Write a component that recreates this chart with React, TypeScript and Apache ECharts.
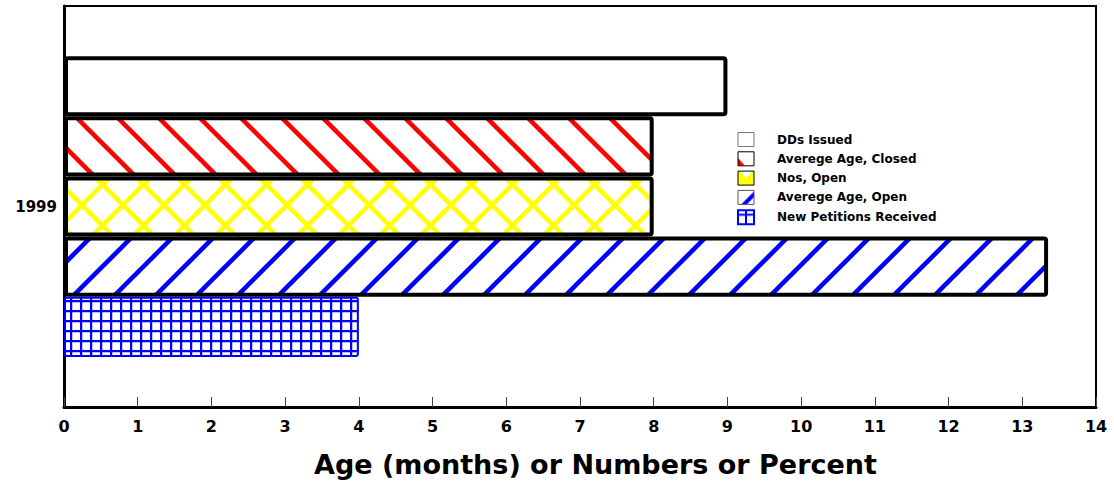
import React, { useEffect, useRef } from "react";
import * as echarts from "echarts";

const categories = ["1999"];
const seriesNames = [
  "DDs Issued",
  "Averege Age, Closed",
  "Nos, Open",
  "Averege Age, Open",
  "New Petitions Received",
];
const ddsIssued = [9];
const avgAgeClosed = [8];
const nosOpen = [8];
const avgAgeOpen = [13.35];
const newPetitions = [4];
const xMin = 0;
const xMax = 14;
const xInterval = 1;
const xTitle = "Age (months) or Numbers or Percent";

function svgPattern(body: string, w: number, h: number) {
  const svg = `<svg xmlns="http://www.w3.org/2000/svg" width="${w}" height="${h}">${body}</svg>`;
  return {
    image: "data:image/svg+xml;charset=utf-8," + encodeURIComponent(svg),
    repeat: "repeat",
    imageWidth: w,
    imageHeight: h,
  };
}

const T = 41;
const back = (c: string) =>
  `<rect width="${T}" height="${T}" fill="#fff"/><path d="M-6,-6 L${T + 6},${T + 6} M-6,${T - 6} L6,${T + 6} M${T - 6},-6 L${T + 6},6" stroke="${c}" stroke-width="4.5" fill="none"/>`;
const fwd = (c: string) =>
  `<rect width="${T}" height="${T}" fill="#fff"/><path d="M-6,${T + 6} L${T + 6},-6 M-6,6 L6,-6 M${T - 6},${T + 6} L${T + 6},${T - 6}" stroke="${c}" stroke-width="4.5" fill="none"/>`;
const cross = (c: string) =>
  `<rect width="${T}" height="${T}" fill="#fff"/><path d="M-6,-6 L${T + 6},${T + 6} M-6,${T - 6} L6,${T + 6} M${T - 6},-6 L${T + 6},6 M-6,${T + 6} L${T + 6},-6 M-6,6 L6,-6 M${T - 6},${T + 6} L${T + 6},${T - 6}" stroke="${c}" stroke-width="4.5" fill="none"/>`;
const G = 10;
const grid = (c: string) =>
  `<rect width="${G}" height="${G}" fill="#fff"/><path d="M1,0 L1,${G} M0,1 L${G},1" stroke="${c}" stroke-width="2.5" fill="none"/>`;

// legend icon tiles (16x14)
const IW = 16;
const IH = 14;
const iconTiles = [
  `<rect width="${IW}" height="${IH}" fill="#fff"/>`,
  `<rect width="${IW}" height="${IH}" fill="#fff"/><polygon points="0,6 7,${IH} 0,${IH}" fill="#ff0000"/>`,
  `<rect width="${IW}" height="${IH}" fill="#ffff00"/><polygon points="2,0 8,7 ${IW - 1},0" fill="#fff"/>`,
  `<rect width="${IW}" height="${IH}" fill="#fff"/><path d="M5,${IH + 1} L${IW + 1},3" stroke="#0000ff" stroke-width="4" fill="none"/>`,
  `<rect width="${IW}" height="${IH}" fill="#fff"/><path d="M${IW / 2},0 L${IW / 2},${IH} M0,4.5 L${IW},4.5" stroke="#0000ff" stroke-width="2" fill="none"/>`,
];
const iconBorders = ["#777", "#000", "#000", "#555", "#0000ff"];
const iconBorderWidths = [1, 1, 1, 1, 2];

export default function App() {
  const ref = useRef<HTMLDivElement>(null);
  useEffect(() => {
    if (!ref.current) return;
    const chart = echarts.init(ref.current, null, { renderer: "svg" });
    const data = [ddsIssued, avgAgeClosed, nosOpen, avgAgeOpen, newPetitions];
    const fills: any[] = [
      "#ffffff",
      svgPattern(back("#ff0000"), T, T),
      svgPattern(cross("#ffff00"), T, T),
      svgPattern(fwd("#0000ff"), T, T),
      svgPattern(grid("#0000ff"), G, G),
    ];
    const borders = ["#000", "#000", "#000", "#000", "#0000ff"];
    const bw = [4, 4, 4, 4, 2];
    const series = seriesNames.map((name, i) => ({
      name,
      type: "bar",
      data: data[i],
      barGap: "0%",
      barCategoryGap: "25%",
      itemStyle: {
        color: fills[i],
        borderColor: borders[i],
        borderWidth: bw[i],
        borderRadius: 2,
      },
    }));
    const font = "DejaVu Sans, Verdana, sans-serif";
    chart.setOption({
      animation: false,
      textStyle: { fontFamily: font },
      grid: {
        left: 64,
        right: 18,
        top: 6,
        bottom: 80,
        show: true,
        borderColor: "#000",
        borderWidth: 2,
        backgroundColor: "transparent",
      },
      graphic: [
        {
          type: "text",
          left: 597 - 283,
          top: 451,
          style: {
            text: xTitle,
            fontFamily: font,
            fontSize: 27,
            fontWeight: "bold",
            fill: "#000",
          },
        },
      ],
      legend: {
        data: seriesNames.map((name, i) => ({
          name,
          itemStyle: {
            color: svgPattern(iconTiles[i], IW, IH),
            borderColor: iconBorders[i],
            borderWidth: iconBorderWidths[i],
          },
        })),
        orient: "vertical",
        left: 732,
        top: 127,
        itemWidth: IW,
        itemHeight: IH,
        itemGap: 4.3,
        icon: "rect",
        formatter: (name: string) => "{g|}" + name,
        textStyle: {
          fontFamily: font,
          fontSize: 12,
          fontWeight: "bold",
          color: "#000",
          rich: { g: { width: 18 } },
        },
      },
      xAxis: {
        type: "value",
        min: xMin,
        max: xMax,
        interval: xInterval,
        axisLine: { show: true, lineStyle: { color: "#000", width: 3 } },
        axisTick: { show: true, inside: true, length: 10, lineStyle: { color: "#444", width: 1 } },
        axisLabel: { fontFamily: font, fontSize: 16, fontWeight: "bold", color: "#000", margin: 11 },
        splitLine: { show: false },
      },
      yAxis: {
        type: "category",
        data: categories,
        axisLine: { show: true, lineStyle: { color: "#000", width: 3 } },
        axisTick: { show: true, inside: true, alignWithLabel: true, length: 10, lineStyle: { color: "#000", width: 1 } },
        axisLabel: { fontFamily: font, fontSize: 15, fontWeight: "bold", color: "#000", margin: 7 },
      },
      series,
    });
    return () => chart.dispose();
  }, []);
  return (
    <div
      ref={ref}
      style={{ position: "fixed", left: 0, top: 0, width: 1114, height: 487, background: "#fff" }}
    />
  );
}
